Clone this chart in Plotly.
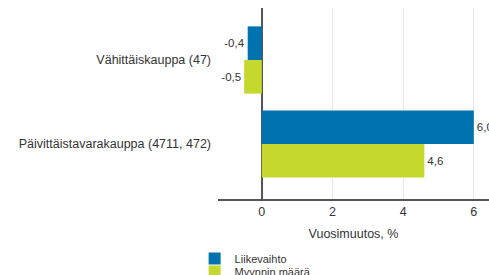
import plotly.graph_objects as go

categories = ["Vähittäiskauppa (47)", "Päivittäistavarakauppa (4711, 472)"]
liikevaihto = [-0.4, 6.0]
myynnin_maara = [-0.5, 4.6]
series_names = ["Liikevaihto", "Myynnin määrä"]
colors = ["#0072B0", "#C5D82E"]

def fmt(v):
    return f"{v:.1f}".replace(".", ",")

fig = go.Figure()
fig.add_trace(go.Bar(
    y=categories, x=liikevaihto, orientation="h", name=series_names[0],
    marker=dict(color=colors[0], line=dict(width=0)),
    text=[fmt(v) for v in liikevaihto], textposition="outside",
    constraintext="none", cliponaxis=False,
    textfont=dict(size=11.5, color="#333333"), legend="legend",
))
fig.add_trace(go.Bar(
    y=categories, x=myynnin_maara, orientation="h", name=series_names[1],
    marker=dict(color=colors[1], line=dict(width=0)),
    text=[fmt(v) for v in myynnin_maara], textposition="outside",
    constraintext="none", cliponaxis=False,
    textfont=dict(size=11.5, color="#333333"), legend="legend2",
))

legend_common = dict(
    font=dict(family="Liberation Sans, Arial", size=11, color="#333333"),
    bgcolor="rgba(0,0,0,0)", xanchor="left", yanchor="middle",
    itemwidth=30, tracegroupgap=0, xref="container", yref="container",
)

fig.update_layout(
    width=489, height=275,
    margin=dict(l=218, r=0, t=8, b=76, autoexpand=False),
    showlegend=True,
    barmode="group", bargap=0.2, bargroupgap=0,
    plot_bgcolor="white", paper_bgcolor="white",
    font=dict(family="Liberation Sans, Arial", size=12.5, color="#333333"),
    xaxis=dict(
        range=[-1.24, 6.43], tickvals=[0, 2, 4, 6], ticktext=["0", "2", "4", "6"],
        showgrid=True, gridcolor="#E6E6E6", gridwidth=1,
        zeroline=True, zerolinecolor="#555555", zerolinewidth=1.5,
        showline=True, linecolor="#555555", linewidth=1.5,
        ticks="", tickfont=dict(size=12.5, color="#333333"),
        title=dict(text="Vuosimuutos, %", font=dict(size=12.5, color="#333333"), standoff=11),
    ),
    yaxis=dict(
        type="category", range=[1.655, -0.619],
        showgrid=False, zeroline=False, showline=False, ticks="",
        tickfont=dict(size=12.5, color="#333333"), ticklabelstandoff=6,
    ),
    legend=dict(x=0.398, y=0.060, **legend_common),
    legend2=dict(x=0.398, y=0.013, **legend_common),
)

fig.write_html("out.html", config={"displayModeBar": False},
               post_script="document.body.style.margin='0';")
